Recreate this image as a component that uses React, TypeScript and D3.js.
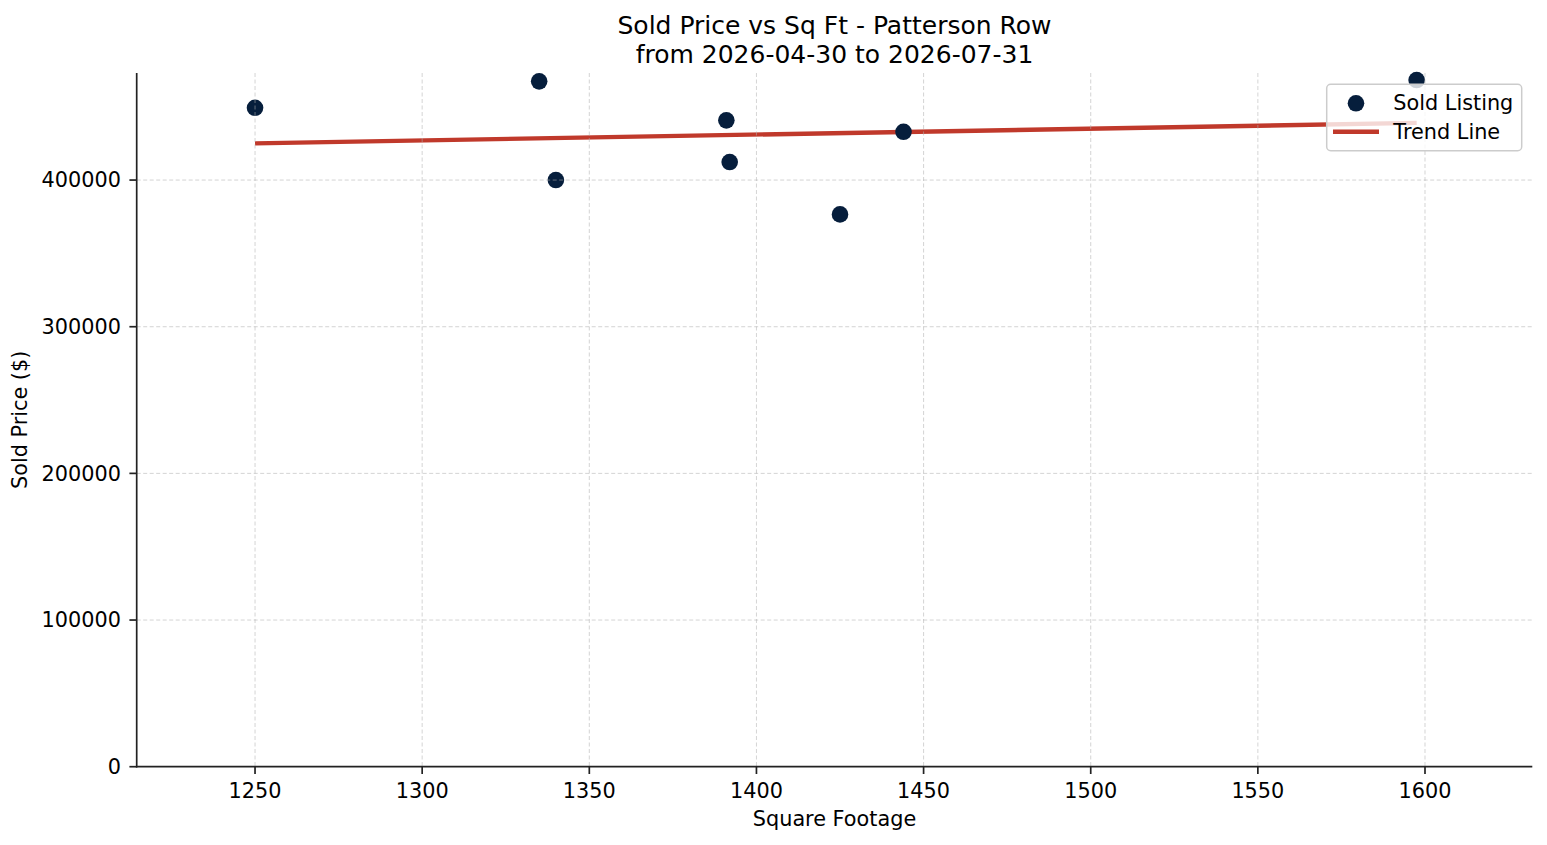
// Scatter of sold price against square footage, with a least-squares trend line.

import * as d3 from "d3";

// sold listings: square footage and sold price ($)
const sqft = [1250, 1335, 1340, 1391, 1392, 1425, 1444, 1597.5];
const price = [449300, 467300, 400000, 440700, 412300, 376600, 432900, 468200];

const xTicks = [1250, 1300, 1350, 1400, 1450, 1500, 1550, 1600];
const yTicks = [0, 100000, 200000, 300000, 400000];

const title = ["Sold Price vs Sq Ft - Patterson Row", "from 2026-04-30 to 2026-07-31"];
const legendLabels = ["Sold Listing", "Trend Line"];

const dotColor = "#061e3c";
const lineColor = "#c0392b";
const font = "DejaVu Sans, sans-serif";

export default function App() {
  const width = 1547;
  const height = 845;
  const [left, right, top, bottom] = [136.7, 1532.3, 73, 766.7];

  const scaleX = d3.scaleLinear([1214.6, 1632.1], [left, right]);
  const scaleY = d3.scaleLinear([0, 473000], [bottom, top]);

  // least-squares fit
  const mx = d3.mean(sqft)!;
  const my = d3.mean(price)!;
  const sxy = d3.sum(sqft, (v, i) => (v - mx) * (price[i] - my));
  const sxx = d3.sum(sqft, (v) => (v - mx) ** 2);
  const slope = sxy / sxx;
  const fit = (v: number) => my + slope * (v - mx);
  const [x0, x1] = d3.extent(sqft) as [number, number];
  const trend = d3.line<number>((d) => scaleX(d), (d) => scaleY(fit(d)))([x0, x1]);

  const tickFont = 20.8;

  return (
    <svg
      width={width}
      height={height}
      style={{ position: "absolute", left: 0, top: 0, background: "white" }}
      fontFamily={font}
    >
      <rect width={width} height={height} fill="white" />
      <title>Sold price vs square footage</title>

      {/* title */}
      <g fontSize={25} textAnchor="middle" fill="black">
        <text x={(left + right) / 2} y={34.3}>{title[0]}</text>
        <text x={(left + right) / 2} y={62.7}>{title[1]}</text>
      </g>

      {/* trend line */}
      <path d={trend ?? ""} fill="none" stroke={lineColor} strokeWidth={4.4} />

      {/* points */}
      <g fill={dotColor}>
        {sqft.map((v, i) => (
          // biome-ignore lint/suspicious/noArrayIndexKey: fixed data
          <circle key={i} cx={scaleX(v)} cy={scaleY(price[i])} r={8.3} />
        ))}
      </g>

      {/* grid */}
      <g stroke="#b0b0b0" strokeOpacity={0.55} strokeWidth={1} strokeDasharray="4,2.5">
        {xTicks.map((t) => (
          <line key={t} x1={scaleX(t)} x2={scaleX(t)} y1={top} y2={bottom} />
        ))}
        {yTicks.slice(1).map((t) => (
          <line key={t} x1={left} x2={right} y1={scaleY(t)} y2={scaleY(t)} />
        ))}
      </g>

      {/* axes */}
      <g stroke="#222" strokeWidth={1.7}>
        <line x1={left} x2={left} y1={top} y2={bottom + 0.8} />
        <line x1={left - 0.8} x2={right} y1={bottom} y2={bottom} />
        {xTicks.map((t) => (
          <line key={t} x1={scaleX(t)} x2={scaleX(t)} y1={bottom} y2={bottom + 7.3} />
        ))}
        {yTicks.map((t) => (
          <line key={t} x1={left - 7.3} x2={left} y1={scaleY(t)} y2={scaleY(t)} />
        ))}
      </g>
      <g fontSize={tickFont} fill="black">
        {xTicks.map((t) => (
          <text key={t} x={scaleX(t)} y={798.3} textAnchor="middle">
            {t}
          </text>
        ))}
        {yTicks.map((t) => (
          <text key={t} x={121} y={scaleY(t) + 7.4} textAnchor="end">
            {t}
          </text>
        ))}
      </g>
      <text x={(left + right) / 2} y={826} fontSize={tickFont} textAnchor="middle">
        Square Footage
      </text>
      <text
        transform={`translate(27, ${(top + bottom) / 2}) rotate(-90)`}
        fontSize={tickFont}
        textAnchor="middle"
      >
        Sold Price ($)
      </text>

      {/* legend */}
      <g>
        <rect
          x={1326.7}
          y={84.3}
          width={195}
          height={66.4}
          rx={4}
          fill="white"
          fillOpacity={0.8}
          stroke="#cccccc"
          strokeWidth={1.5}
        />
        <circle cx={1356} cy={103.3} r={8.3} fill={dotColor} />
        <line x1={1333} x2={1379} y1={131.7} y2={131.7} stroke={lineColor} strokeWidth={4.4} />
        <g fontSize={tickFont} fill="black">
          <text x={1393.3} y={110.3}>{legendLabels[0]}</text>
          <text x={1393.3} y={139.3}>{legendLabels[1]}</text>
        </g>
      </g>
    </svg>
  );
}
